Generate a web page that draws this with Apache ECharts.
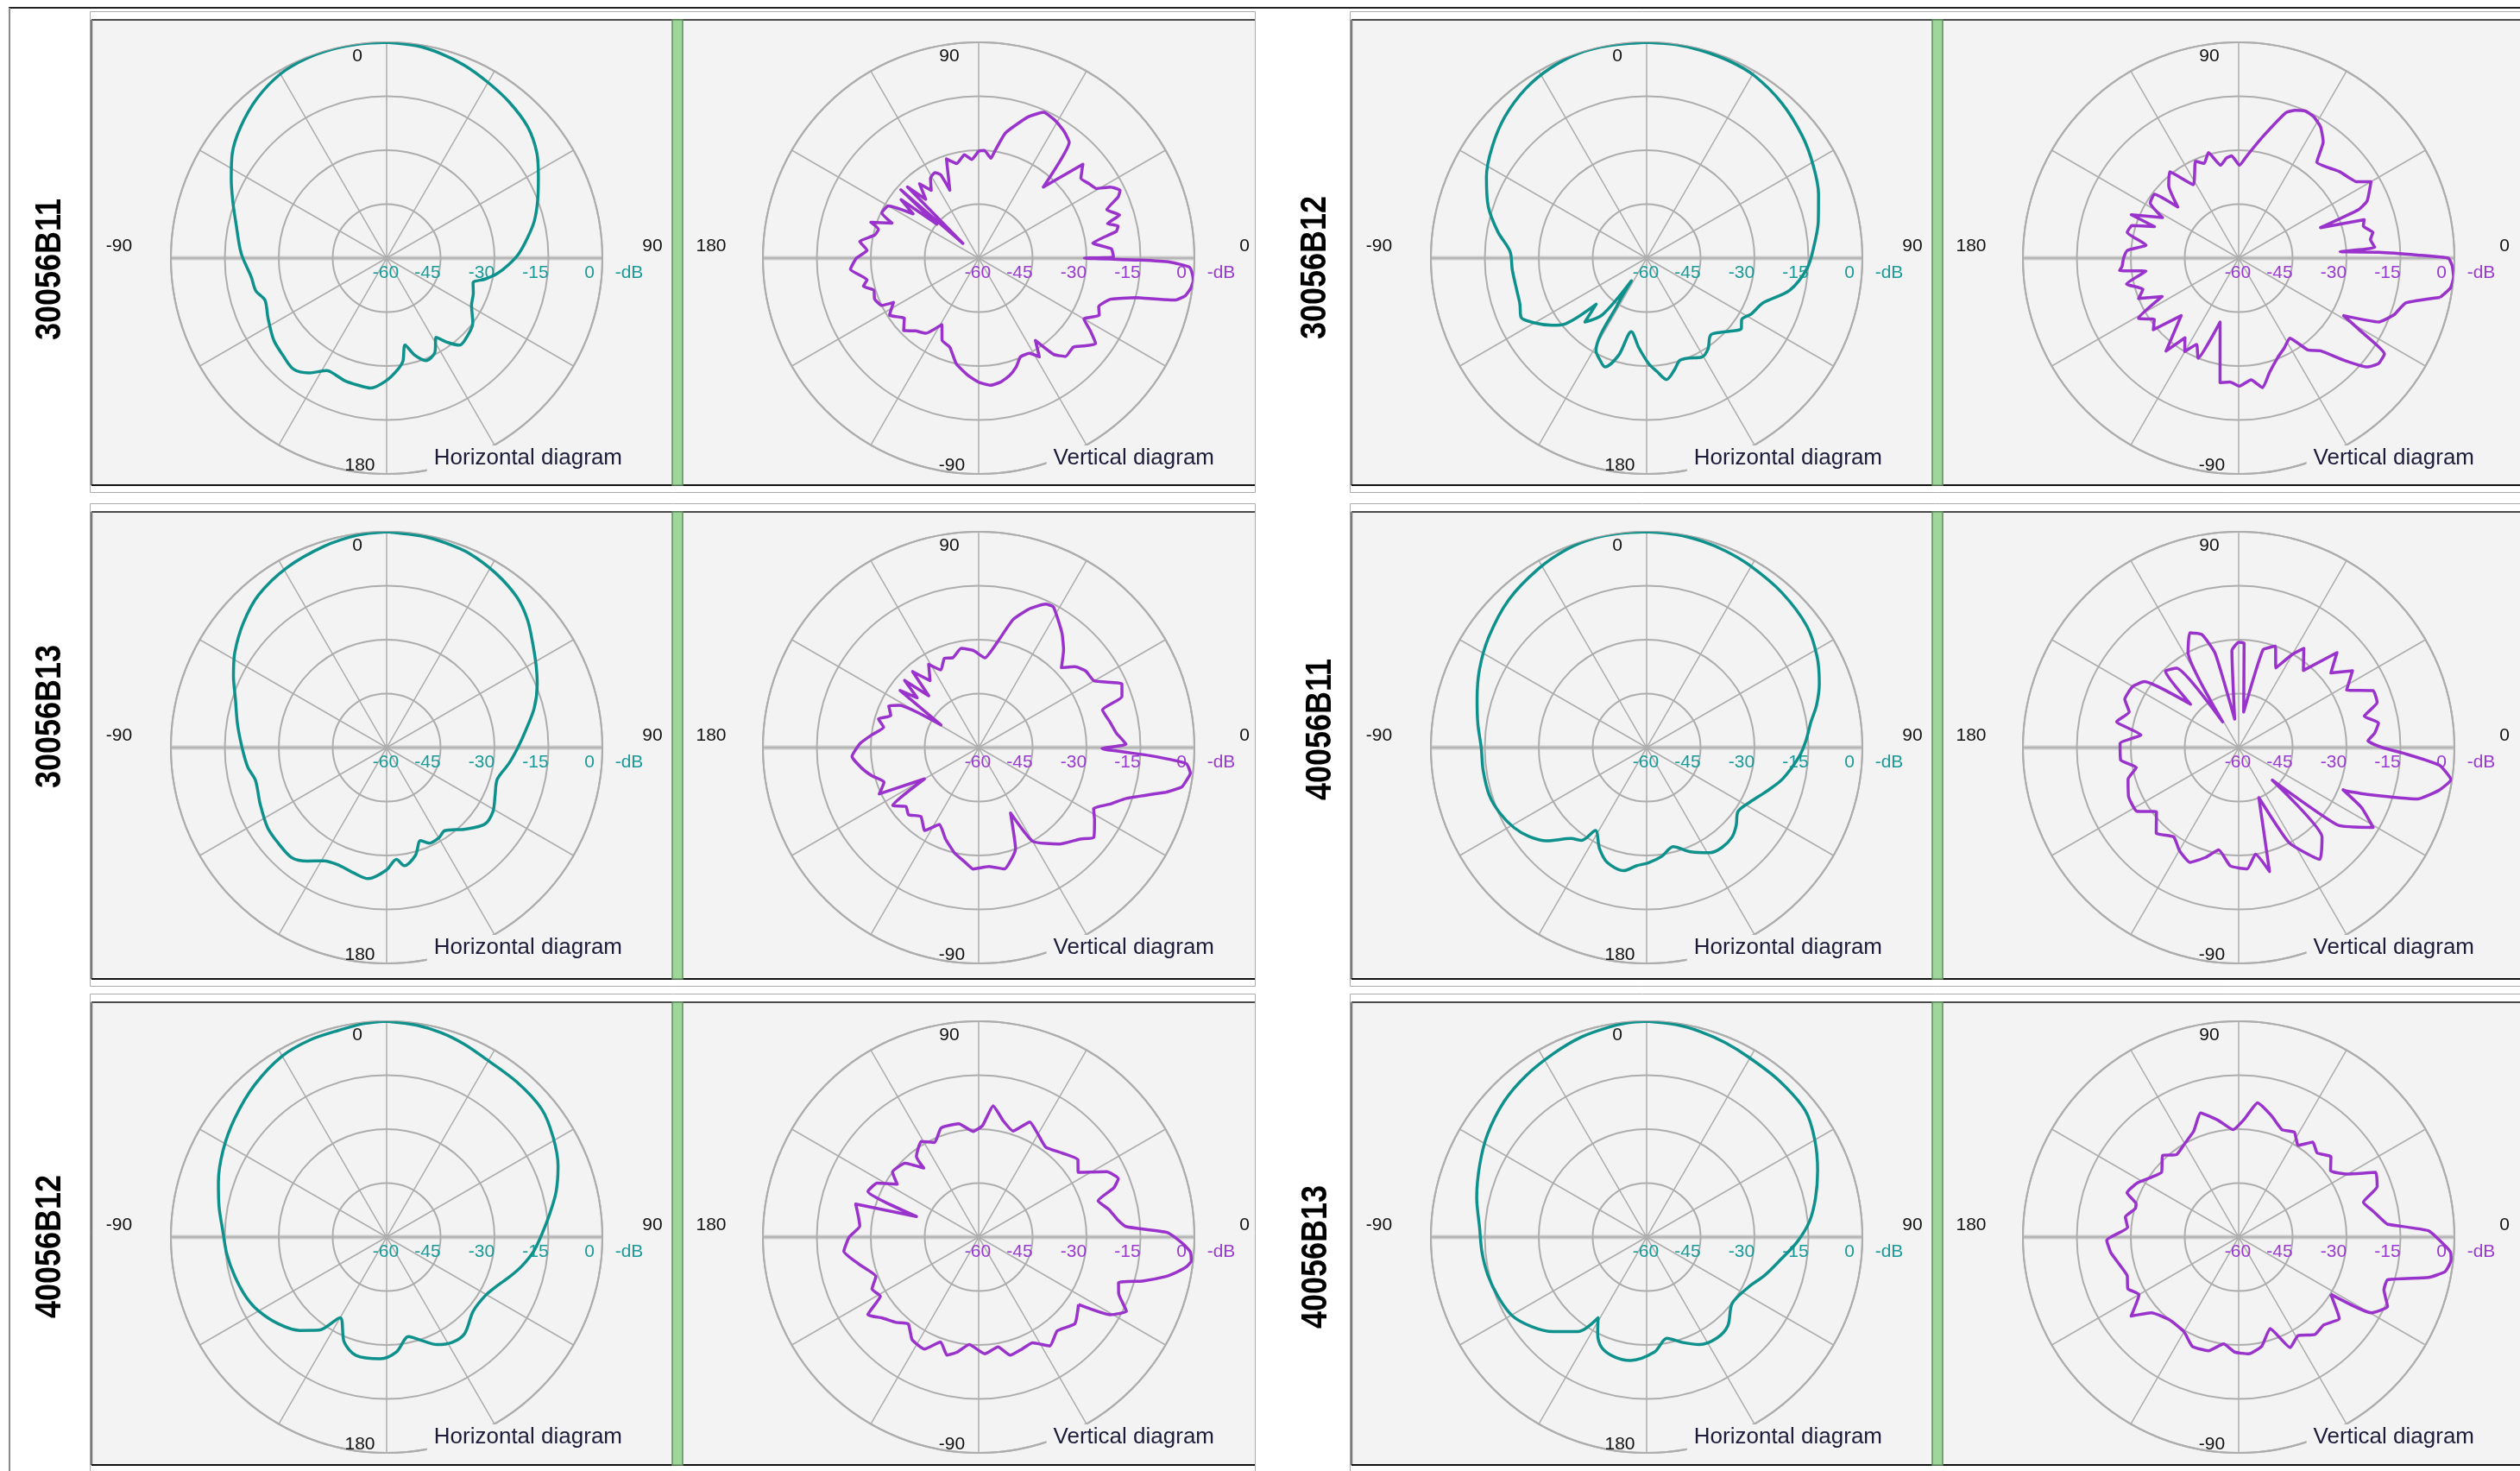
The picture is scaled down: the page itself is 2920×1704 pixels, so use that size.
<!DOCTYPE html>
<html><head><meta charset="utf-8">
<script src="https://cdn.jsdelivr.net/npm/echarts@6/dist/echarts.min.js"></script>
<style>html,body{margin:0;padding:0;background:#fff}#c{width:2920px;height:1704px}</style>
</head><body><div id="c"></div>
<script>
// ---------------- DATA ----------------
const models = ['30056B11', '30056B12', '30056B13', '40056B11', '40056B12', '40056B13'];
const radiusTicks = [-60, -45, -30, -15, 0];
const hAngleLabels = ['0', '90', '180', '-90'];
const vAngleLabels = ['90', '0', '-90', '180'];
const unitLabel = '-dB';
const hTitle = 'Horizontal diagram';
const vTitle = 'Vertical diagram';

// [angle (deg), level (dB)] — horizontal: 0 top, clockwise; vertical: 0 right, counter-clockwise
const H_30056B11 = [[0,0],[8,-0.4],[15,-1.2],[22,-2.2],[30,-3.6],[38,-4.8],[47,-6.4],[55,-9],[62,-12.2],[69,-15],[76,-17.7],[82,-20.5],[88,-23.2],[93,-26],[98,-29],[102,-32],[106,-35],[112,-34],[119,-33],[127,-30],[134,-28.8],[140,-28.4],[144,-31],[148,-34],[153,-30.5],[159,-29.5],[164,-32],[168,-35.3],[171,-31],[174,-29],[180,-26],[187,-23.6],[193,-23.8],[199,-24],[204,-24.6],[208,-24.6],[214,-21.5],[220,-19.7],[227,-20.5],[234,-21.2],[243,-23],[251,-24.2],[256,-22.5],[262,-22],[272,-19.5],[283,-17],[290,-14.5],[297,-11.5],[304,-8.2],[312,-5.4],[321,-2.8],[330,-0.9],[338,-0.2],[346,0],[353,0]];
const V_30056B11 = [[-14,-14.7],[-12,-4],[-10.3,-1.6],[-8,-0.4],[-6,0],[-4,-0.5],[-2.4,-1.4],[-1.2,-6.7],[-0.7,-15],[0,-30.6],[0.5,-22.5],[4,-23],[7.5,-28],[11,-21],[13,-20.2],[15,-22.9],[17,-19],[20.7,-21.9],[23.7,-17.6],[25.6,-16.4],[28.3,-18.4],[30.6,-22],[34,-23],[38,-23.9],[42,-21],[47.7,-33.3],[52,-19.1],[56,-17.5],[61,-16.2],[66,-15.6],[70.7,-18.4],[77.9,-24.4],[81.6,-30.2],[83,-32],[87,-30],[90,-30.3],[94,-32.5],[97.9,-31],[103,-33],[108,-31],[113,-39.5],[114.5,-34.6],[117,-33.3],[121,-34],[125,-37],[128.5,-33.6],[132,-38],[135,-32],[137,-54],[138.7,-31.2],[141,-45],[143,-33],[146,-38],[150,-31],[155,-30.3],[158,-34],[161.6,-28.4],[164,-31],[167.5,-30.4],[172,-26.6],[176,-28.9],[180,-26],[185,-24.2],[191,-28.4],[193.7,-27],[197,-29.5],[201.5,-28.9],[206,-30],[207.5,-33.3],[212.6,-30.6],[219,-33.4],[224,-31],[229,-33.2],[235,-34.5],[241,-38.9],[246,-35],[252,-34],[258,-30],[265,-27.2],[270,-25.5],[275.4,-24.5],[280,-25],[284.6,-26.2],[289,-28],[293,-30.2],[298,-30],[301.6,-27.8],[304.6,-32.2],[308,-26],[311.5,-23.5],[316.7,-23.9],[320,-22],[323.8,-19.7],[327,-23],[330,-26.2],[334.7,-22.9],[338,-24],[342.7,-21.6],[346,-14.7]];

const H_30056B12 = [[0,0],[8,-0.1],[15,-0.3],[23,-0.6],[30.6,-1.1],[41,-2.8],[52,-5],[61,-7],[69.6,-9],[78,-11.2],[85.7,-13.3],[93.4,-15.2],[102.6,-19.2],[111,-25.3],[118,-27],[123,-28.5],[126.6,-27.2],[133,-30],[140,-32.2],[146,-29.5],[151,-28.5],[157,-29.8],[162,-30.1],[166,-28],[170.7,-25.8],[175,-28.5],[178.8,-30.6],[185,-35],[191.8,-39.1],[196,-32],[201,-27.6],[205,-29],[208.6,-30.6],[212,-45],[214,-52.4],[218,-40],[224,-35.3],[227.6,-41],[231,-31],[234.7,-27.7],[240,-24],[244.8,-21.4],[250,-22.5],[256,-22.8],[265,-22.5],[272.7,-22],[280,-18],[288,-13.7],[297,-10],[306,-7],[315,-4.3],[324.5,-2.1],[333,-0.8],[341.6,0],[350,0]];
const V_30056B12 = [[-11,-2.9],[-8,-0.5],[-5,0],[-2,-0.6],[0,-1.7],[1,-10.3],[2.4,-21],[3.6,-31.7],[4.5,-22],[8,-23],[10.8,-22],[14.4,-24.2],[17,-23.5],[20.4,-35.7],[22,-24],[24,-20.9],[30,-17.5],[33,-21],[36,-22],[40.4,-23],[45,-24.5],[50.8,-25.6],[54,-20],[58,-17],[62,-15.5],[65.7,-15.1],[69,-16],[72,-17.5],[78.8,-25.6],[85.3,-31.4],[89.5,-34.2],[93.9,-31.5],[97,-32],[101,-33.7],[106,-29.5],[110,-32],[114,-30.5],[121.7,-36],[128.6,-29.3],[134,-32],[140,-37.9],[142.8,-30.6],[148,-31],[152,-36],[158,-27.8],[159.5,-35],[163,-29],[167,-28.2],[172,-34],[176,-29],[180,-28],[184,-27.5],[186,-26.7],[188,-34],[193,-28],[198,-32],[202,-30],[206.6,-36.2],[211,-27.5],[216,-31],[220,-29],[225,-37.4],[232,-27.2],[236,-33.3],[240,-30],[244,-33.3],[248,-30],[253.8,-41.5],[261.5,-25],[266,-25.5],[270.4,-24.4],[275.8,-26],[280.5,-23.4],[285,-27],[291.7,-30.4],[297,-32],[302.6,-33.6],[307,-28],[311.5,-25.6],[316,-19],[319.7,-13.2],[323,-11.3],[326.7,-11.5],[329,-20],[331.3,-26.7],[335.5,-17.2],[340,-14],[345,-11.9],[349,-2.9]];

const H_30056B13 = [[0,0],[10,-0.4],[16,-0.8],[22.9,-1.3],[32,-2.8],[41,-4.7],[48,-7.2],[55,-10.3],[61,-12.5],[67,-14.5],[75,-17.5],[83.4,-21.2],[90,-23.5],[97.4,-25.7],[106,-28],[114,-27],[121,-25.5],[128,-25.4],[136,-28.5],[145,-31.8],[150,-31],[156,-30.9],[160,-32.5],[165,-29],[171.5,-26.8],[175,-28.8],[180,-26],[188,-23.2],[195,-24],[201.6,-24.7],[209,-24],[215,-21.5],[220.8,-19.6],[228,-19.8],[236,-20.1],[246,-21.5],[256,-22.4],[262,-21],[270,-19.8],[279,-18],[287.6,-15.9],[295,-13],[302,-10.2],[311,-7.2],[320,-4.6],[331,-2.8],[342.7,-1.4],[352,-0.4]];
const V_30056B13 = [[-13.4,-6.4],[-11,-2.5],[-9,-1.5],[-6.9,-0.7],[-4.4,-2.1],[-2.7,-12.2],[-0.4,-25.7],[1.3,-19],[6,-21.5],[11,-22.8],[17,-24],[19.6,-17.7],[24,-16.4],[30,-22.9],[35.6,-23.4],[40,-25],[44,-28],[49,-24],[54,-20.6],[62,-15.7],[65,-16],[70,-19],[75,-23.2],[80,-30.3],[86,-35],[93,-33],[100,-32],[106,-34],[111,-33.4],[116,-36],[121,-33],[126,-37],[131,-32],[134,-40],[137.8,-32.2],[141,-38],[144,-33],[149,-47.8],[152,-35],[155,-32.4],[160,-34],[164,-31],[168,-33],[173,-30.2],[178,-27],[184,-24.7],[190,-27],[195,-29.4],[200,-32],[205,-29.5],[210,-42.6],[214,-31.2],[219,-34],[223.7,-33],[230,-35],[237,-32.5],[243,-36],[250,-33],[257,-30],[263,-28],[267.4,-26.2],[275,-26.8],[282,-25.5],[290,-30],[296,-39.8],[300,-29.9],[310,-25],[318,-22],[322,-19.4],[328,-22],[332,-23.8],[337,-20],[341,-16.6],[346.6,-6.4]];

const H_40056B11 = [[0,0],[8,-0.2],[15,-0.6],[22,-1.1],[29.6,-1.8],[41,-2.8],[52.9,-4.1],[62,-6.3],[69.7,-8.8],[76,-11.3],[81,-13.7],[88,-15.8],[93.6,-17.6],[103,-21.2],[110,-24.5],[117.7,-27.5],[125,-29],[131,-27],[136.3,-25.6],[143,-25.2],[149,-25.9],[157,-28.5],[165,-31.5],[172,-29.5],[179,-28],[185,-27],[190.5,-25.2],[198.8,-26.2],[205,-29],[211.7,-32.9],[215,-28.5],[219.8,-27.1],[227,-22],[233,-19],[239,-16.9],[246,-15.3],[253,-14.3],[262,-14.1],[270,-14],[278,-12.6],[285.8,-11],[295,-8.7],[305,-6.4],[317,-3.8],[328.8,-1.9],[338,-0.6],[346,0],[353,0]];
const V_40056B11 = [[-22,-28],[-20,-22],[-16,-8.2],[-12,-3],[-8.6,-0.3],[-5,-4],[-2,-14],[0,-20],[3,-24],[6,-22],[10,-20.5],[14,-24],[18,-19.5],[23,-19.4],[28,-26],[34,-21.8],[39,-27],[44,-22],[50,-32],[56.7,-27],[60,-30],[65,-35.6],[70,-30],[76,-32],[82,-50],[87,-31],[90,-30.7],[94,-33],[98,-52],[104,-33],[108,-27],[113,-25.3],[118,-30],[122,-51.6],[128,-32],[133.8,-30.6],[138,-42],[145,-28],[150,-26],[157,-25.6],[162,-28],[168,-25.3],[172.6,-32.6],[178,-27],[186,-27],[191,-31],[196,-28],[204,-26.5],[212,-26.6],[218,-31],[226,-27],[234,-29.3],[240,-27],[247,-25.3],[253,-28],[259,-31],[266,-27],[274,-26.2],[279,-30],[284,-24.5],[292,-45],[298,-30],[306,-21.6],[313,-26],[316,-47],[322,-25],[329.3,-16.5],[334,-22],[338,-28.7]];

const H_40056B12 = [[0,0],[8,-0.5],[15,-1.2],[22,-2.2],[29,-3.3],[40,-3.7],[50.5,-4.1],[59,-6],[67.5,-8.4],[75,-11.2],[81.7,-14.1],[88,-16.5],[95.5,-18.9],[102,-21.5],[108,-24.1],[114,-26.5],[120.7,-28.1],[130.7,-28.3],[141,-25.5],[148,-25.5],[155,-27],[161,-29.5],[167.6,-31.7],[175,-28],[183,-26.1],[194.5,-26],[202,-28.5],[210,-34.1],[216,-28],[223,-24.5],[231,-21.5],[240,-18.9],[247,-17.5],[255.4,-16.4],[264,-15.3],[272.8,-14.3],[280,-12.7],[288,-10.8],[298,-8.5],[308,-6.4],[319,-4],[330,-1.9],[339,-1.2],[347,-1],[354,-0.3]];
const V_40056B12 = [[-34,-26.5],[-30.5,-17.5],[-26.7,-14],[-22,-18],[-18,-19.1],[-15,-12.8],[-12,-7],[-10,-4],[-8,-1.5],[-6.4,-0.5],[-4,-1],[-2,-3],[1.4,-7.6],[4,-18.8],[7,-21],[12,-23],[16.9,-25.3],[20,-20],[22.7,-17.9],[27,-20],[33,-27],[38,-25],[45,-27],[53.3,-28.8],[60,-27],[66,-25],[72,-29],[78,-27],[83.7,-23.3],[88,-29],[93,-30.6],[100,-28],[109,-27.9],[115,-31],[121,-29],[127.7,-31.7],[128.5,-35.5],[135,-31],[143,-30],[147,-33],[152,-28],[157.6,-26.7],[161.7,-41.8],[165,-24.6],[170,-26],[174.7,-26.8],[180,-24],[186,-22.3],[193,-26],[201,-29.4],[206,-27],[211,-28.1],[215,-22.4],[220,-25],[226,-27],[231,-28.9],[237,-26],[244.2,-25.4],[250,-29],[255,-26],[259.3,-27.4],[265,-30],[273,-27.5],[280,-29],[285,-26],[291,-26.6],[297,-27],[303.2,-23.8],[310,-26],[318,-24],[326,-26.5]];

const H_40056B13 = [[0,0],[8,-0.4],[15,-1],[22,-1.7],[29.5,-2.5],[40,-3],[51.5,-3.6],[60,-6],[68.8,-9],[77,-11.8],[84.5,-14.5],[92,-18.2],[99.3,-22.1],[108,-25.5],[116,-28.4],[127.8,-29.9],[137.4,-26.6],[145,-25.8],[153.8,-26.7],[161,-29],[168.7,-31.3],[176,-28],[187.5,-25.4],[195,-25.5],[202,-26.8],[207,-30],[211,-33.8],[216,-27.5],[224.7,-23],[232,-19.5],[239.6,-16.7],[248,-15.5],[256.6,-14.6],[265,-14],[273,-13.5],[283,-11.5],[293.5,-9.4],[303,-7.3],[313.6,-5.3],[323,-4],[333,-2.8],[342,-1.5],[350,-0.7],[355,-0.2]];
const V_40056B13 = [[-31.8,-29.9],[-29.7,-17.5],[-25,-14.3],[-20,-17],[-16,-16.9],[-12,-6],[-9.6,-1.9],[-7.5,-0.9],[-5.9,-0.6],[-4,-1],[-2,-3],[1.9,-7.2],[4.9,-18.4],[6.2,-19.4],[11,-22],[15.6,-24],[20,-19],[25.3,-17.9],[30,-25],[35.8,-28.5],[41,-26],[47,-28],[52,-26.5],[57,-29.6],[62,-27],[68,-27.8],[75,-25],[82,-22.3],[87,-27],[93,-30.1],[100,-27],[107,-23.9],[113,-28],[120,-30],[127,-31.3],[133,-29],[140,-32],[145.5,-30.6],[152,-28],[158.4,-26.6],[162,-30],[164.6,-30.2],[170,-28],[175,-29],[181.4,-23.3],[187,-24.2],[193,-26],[199,-27.2],[205,-26],[210,-28],[216.3,-22.9],[221,-27.9],[230,-30],[240,-29.6],[247,-27],[255.1,-27.3],[262,-30],[268,-28],[275,-27.4],[282,-29],[289,-33.1],[295,-26.1],[301,-28],[308,-25.6],[314,-26],[321,-24],[328.2,-29.9]];

const H_SERIES = [H_30056B11, H_30056B12, H_30056B13, H_40056B11, H_40056B12, H_40056B13];
const V_SERIES = [V_30056B11, V_30056B12, V_30056B13, V_40056B11, V_40056B12, V_40056B13];

// ---------------- LAYOUT / STYLE ----------------
const COL_X = [104, 1564];
const ROW_OUT_TOP = [13, 583, 1151];
const ROW_IN_TOP = [23, 593, 1161];
const ROW_IN_BOT = [562, 1134, 1697];
const ROW_CY = [299, 866, 1433];
const LABEL_POS = [[58, 312], [1524, 310], [58, 830], [1530, 845], [58, 1444], [1525, 1456]];
const R = 250, H_DX = 344, V_DX = 1030, BOX_W = 1350;
const TEAL = '#0e918c', TEAL_TXT = '#1a9a98', PURPLE = '#9933cc', PURPLE_TXT = '#9a3ad0';
const GRIDC = '#adadad';
const FONT = "'Liberation Sans', Arial, sans-serif";

const polar = [], angleAxis = [], radiusAxis = [], series = [], graphic = [];

function gridPolar(cx, cy, txtColor) {
  const i = polar.length;
  polar.push({ center: [cx, cy], radius: R });
  angleAxis.push({ polarIndex: i, type: 'value', min: 0, max: 360, interval: 30, startAngle: 0, clockwise: false,
    axisLine: { show: true, lineStyle: { color: GRIDC, width: 2 } }, axisTick: { show: false }, axisLabel: { show: false },
    splitLine: { show: true, lineStyle: { color: GRIDC, width: 1.5 } } });
  radiusAxis.push({ polarIndex: i, type: 'value', min: -60, max: 0, interval: 15,
    axisLine: { show: false }, axisTick: { show: false },
    splitLine: { show: true, lineStyle: { color: GRIDC, width: 2 } },
    axisLabel: { show: true, margin: -17, verticalAlign: 'middle', color: txtColor, fontSize: 21, fontFamily: FONT,
      formatter: v => (v === radiusTicks[0] ? '{c|' + v + '}' : '{o|' + v + '}'),
      rich: { c: { color: txtColor, fontSize: 21, fontFamily: FONT, padding: [0, 2, 0, 0] },
              o: { color: txtColor, fontSize: 21, fontFamily: FONT, padding: [0, 30, 0, 0] } } } });
  return i;
}
function dataPolarH(cx, cy) {
  const i = polar.length;
  polar.push({ center: [cx, cy], radius: R });
  angleAxis.push({ polarIndex: i, type: 'value', min: 0, max: 360, startAngle: 90, clockwise: true, show: false,
    axisLine: { show: false }, axisTick: { show: false }, axisLabel: { show: false }, splitLine: { show: false } });
  radiusAxis.push({ polarIndex: i, type: 'value', min: -60, max: 0, show: false,
    axisLine: { show: false }, axisTick: { show: false }, axisLabel: { show: false }, splitLine: { show: false } });
  return i;
}
function addLine(pi, pts, color, smooth) {
  const d = pts.map(p => [p[1], ((p[0] % 360) + 360) % 360]);
  d.push(d[0]);
  series.push({ type: 'line', coordinateSystem: 'polar', polarIndex: pi, data: d, showSymbol: false, symbol: 'none',
    smooth, lineStyle: { color, width: 3.5, join: 'round' }, itemStyle: { color }, silent: true, animation: false, z: 5 });
}
function txt(x, y, text, opt) {
  graphic.push(Object.assign({ type: 'text', x, y, z: 20, silent: true,
    style: Object.assign({ text, fill: '#111', fontSize: 21, fontFamily: FONT, align: 'center', verticalAlign: 'middle' }, opt.style || {}) },
    opt.el || {}));
}
function diagramDecor(cx, cy, labels, txtColor, title, bgColor) {
  graphic.push({ type: 'line', z: -5, silent: true, shape: { x1: cx - R, y1: cy, x2: cx + R, y2: cy }, style: { stroke: '#cdcdcd', lineWidth: 5 } });
  txt(cx - 34, cy - 234, labels[0], {});
  txt(cx + 308, cy - 14, labels[1], {});
  txt(cx - 31, cy + 240, labels[2], {});
  txt(cx - 310, cy - 14, labels[3], {});
  txt(cx + 281, cy + 17, unitLabel, { style: { fill: txtColor } });
  txt(cx + 275, cy + 232, title, { style: { fill: '#1c1c3a', fontSize: 26, align: 'right', backgroundColor: bgColor, padding: [2, 2, 2, 8] } });
}

const BG = '#f3f3f3';
graphic.push({ type: 'line', z: -20, silent: true, shape: { x1: 10, y1: 9, x2: 2920, y2: 9 }, style: { stroke: '#222', lineWidth: 2 } });
graphic.push({ type: 'line', z: -20, silent: true, shape: { x1: 11, y1: 9, x2: 11, y2: 1704 }, style: { stroke: '#8a8a8a', lineWidth: 2 } });

models.forEach((m, p) => {
  const col = p % 2, row = Math.floor(p / 2);
  const x0 = COL_X[col];
  const w = col === 0 ? BOX_W : 2920 - x0 + 10;
  const top = ROW_OUT_TOP[row], itop = ROW_IN_TOP[row], ibot = ROW_IN_BOT[row];
  graphic.push({ type: 'rect', z: -20, silent: true, shape: { x: x0 + 0.5, y: top + 0.5, width: w, height: ibot - top + 8 }, style: { fill: '#ffffff', stroke: '#ababab', lineWidth: 1 } });
  graphic.push({ type: 'rect', z: -15, silent: true, shape: { x: x0 + 2, y: itop, width: w - 2, height: ibot - itop }, style: { fill: BG } });
  graphic.push({ type: 'line', z: -14, silent: true, shape: { x1: x0 + 2, y1: itop, x2: x0 + w, y2: itop }, style: { stroke: '#4a4a4a', lineWidth: 2 } });
  graphic.push({ type: 'line', z: -14, silent: true, shape: { x1: x0 + 2, y1: itop, x2: x0 + 2, y2: ibot }, style: { stroke: '#7a7a7a', lineWidth: 2.5 } });
  graphic.push({ type: 'line', z: -14, silent: true, shape: { x1: x0 + 2, y1: ibot, x2: x0 + w, y2: ibot }, style: { stroke: '#111', lineWidth: 2 } });
  graphic.push({ type: 'rect', z: -13, silent: true, shape: { x: x0 + 675, y: itop, width: 12, height: ibot - itop }, style: { fill: '#9fd69a', stroke: '#5d8c5d', lineWidth: 1.5 } });
  graphic.push({ type: 'text', z: 20, silent: true, x: LABEL_POS[p][0], y: LABEL_POS[p][1], rotation: Math.PI / 2, scaleY: 1.2,
    style: { text: m, fill: '#000', fontSize: 36, fontWeight: 'bold', fontFamily: FONT, align: 'center', verticalAlign: 'middle' } });

  const cy = ROW_CY[row];
  const hcx = x0 + H_DX, vcx = x0 + V_DX;
  gridPolar(hcx, cy, TEAL_TXT);
  const hp = dataPolarH(hcx, cy);
  addLine(hp, H_SERIES[p], TEAL, 0.3);
  diagramDecor(hcx, cy, hAngleLabels, TEAL_TXT, hTitle, BG);
  const vp = gridPolar(vcx, cy, PURPLE_TXT);
  addLine(vp, V_SERIES[p], PURPLE, 0.15);
  diagramDecor(vcx, cy, vAngleLabels, PURPLE_TXT, vTitle, BG);
});

const chart = echarts.init(document.getElementById('c'), null, { renderer: 'canvas', width: 2920, height: 1704 });
chart.setOption({ animation: false, backgroundColor: '#ffffff', polar, angleAxis, radiusAxis, series, graphic });
</script>
</body></html>
